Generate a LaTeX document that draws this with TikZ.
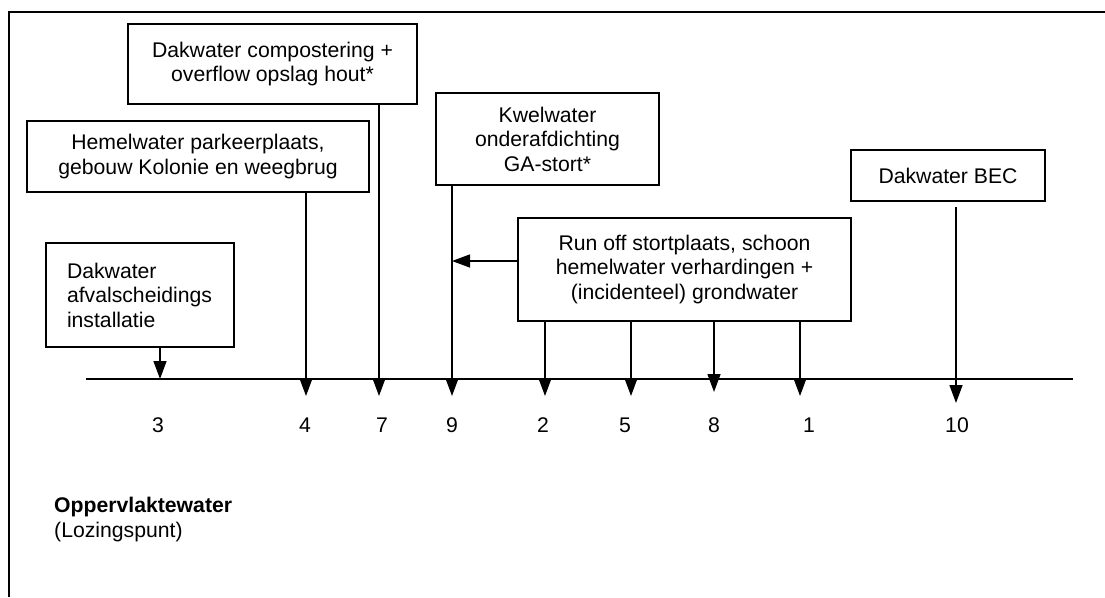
\documentclass[tikz,border=0pt]{standalone}
\usepackage{fontspec}
\setmainfont{Liberation Sans}
\usetikzlibrary{arrows.meta}
\begin{document}
\begin{tikzpicture}[x=1pt,y=-1pt,
 box/.style={draw, line width=1.7pt, inner sep=0pt, align=center, font=\fontsize{21.2}{24.5}\selectfont},
 arr/.style={line width=1.4pt, -{Triangle[length=18pt,width=13pt]}},
 num/.style={font=\fontsize{21.2}{24.5}\selectfont, inner sep=0pt},
 frameline/.style={line width=1.8pt},
 baseline/.style={line width=1.5pt}]
\useasboundingbox (0,0) rectangle (1105,597);
% outer frame
\coordinate (f1) at (9,597);
\coordinate (f2) at (9,12);
\coordinate (f3) at (1106,12);
\draw[frameline] (f1) -- (f2) -- (f3);
% boxes
\node[box, minimum width=289pt, minimum height=80pt] (A) at (272.5,64) {Dakwater compostering +\\overflow opslag hout*};
\node[box, minimum width=342pt, minimum height=71pt] (B) at (198,156.5) {Hemelwater parkeerplaats,\\gebouw Kolonie en weegbrug};
\node[box, minimum width=223pt, minimum height=92pt] (C) at (547.5,139) {Kwelwater\\onderafdichting\\GA-stort*};
\node[box, minimum width=194pt, minimum height=51pt] (D) at (948,175.5) {Dakwater BEC};
\node[box, minimum width=333pt, minimum height=103pt] (E) at (684.5,269.5) {Run off stortplaats, schoon\\hemelwater verhardingen +\\(incidenteel) grondwater};
\node[box, minimum height=104pt, text width=146pt, inner xsep=21pt, align=left] (F) at (140,295) {Dakwater\\afvalscheidings\\installatie};
% main line
\coordinate (L1) at (86,379);
\coordinate (L2) at (1073,379);
\draw[baseline] (L1) -- (L2);
% arrow tips
\coordinate (t3) at (160,379);
\coordinate (t4) at (306,396);
\coordinate (t7) at (379,396);
\coordinate (t9) at (452,396);
\coordinate (t2) at (545,396);
\coordinate (t5) at (631,396);
\coordinate (t8) at (714,392);
\coordinate (t1) at (800,396);
\coordinate (s10) at (956,207);
\coordinate (t10) at (956,403);
\coordinate (j9) at (452,261);
% connectors
\draw[arr] (t3 |- F.south) -- (t3);
\draw[arr] (t4 |- B.south) -- (t4);
\draw[arr] (t7 |- A.south) -- (t7);
\draw[arr] (t9 |- C.south) -- (t9);
\draw[arr] (t2 |- E.south) -- (t2);
\draw[arr] (t5 |- E.south) -- (t5);
\draw[arr] (t8 |- E.south) -- (t8);
\draw[arr] (t1 |- E.south) -- (t1);
\draw[arr] (s10) -- (t10);
\draw[arr] (E.west |- j9) -- (j9);
% numbers
\node[num] (n3) at (158,425) {3};
\node[num] (n4) at (305,425) {4};
\node[num] (n7) at (382,425) {7};
\node[num] (n9) at (452,425) {9};
\node[num] (n2) at (543,425) {2};
\node[num] (n5) at (625,425) {5};
\node[num] (n8) at (714,425) {8};
\node[num] (n1) at (809,425) {1};
\node[num] (n10) at (957,425) {10};
% legend
\node[num, anchor=north west, align=left] (ow) at (54,497) {\textbf{Oppervlaktewater}\\(Lozingspunt)};
\end{tikzpicture}
\end{document}
